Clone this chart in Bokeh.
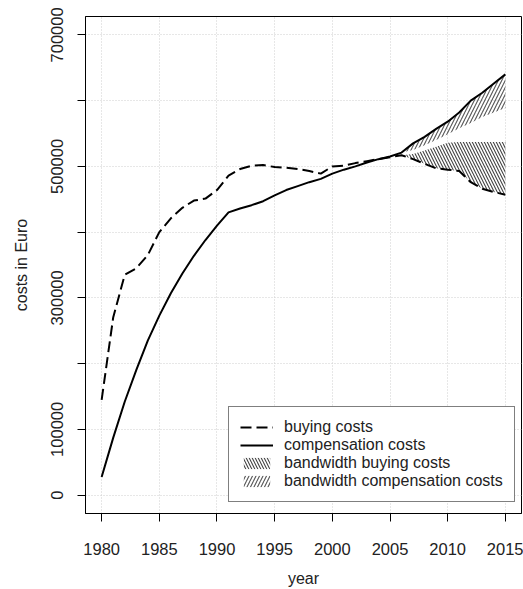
from bokeh.plotting import figure
from bokeh.models import FixedTicker, Legend, LegendItem, Range1d
from bokeh.embed import file_html
from bokeh.resources import INLINE

# ---- data ----
years = list(range(1980, 2016))
buying_costs = [145000, 270000, 335000, 345000, 365000, 400000, 421000, 437000, 448000, 451000,
                464000, 486000, 496000, 501000, 502000, 499000, 498000, 496000, 493000, 489000,
                500000, 501000, 505000, 508000, 511000, 514000, 517000, 511000, 504000, 497000,
                495000, 493000, 476000, 466000, 461000, 457000]
compensation_costs = [27500, 87000, 142000, 190000, 235000, 273000, 307000, 337000, 364000, 388000,
                      410000, 430000, 436000, 441000, 447000, 456000, 464000, 470000, 476000, 481000,
                      489000, 495000, 500000, 506000, 511000, 515000, 521000, 535000, 545000, 557000,
                      568000, 582000, 600000, 612000, 626000, 640000]
band_years = list(range(2006, 2016))
buying_band_upper = [517000, 519000, 524000, 530000, 536000, 537000, 537000, 537000, 537000, 537000]
buying_band_lower = buying_costs[-10:]
comp_band_upper = compensation_costs[-10:]
comp_band_lower = [521000, 525000, 532000, 540000, 549000, 558000, 566000, 575000, 582000, 589000]

x_ticks = [1980, 1985, 1990, 1995, 2000, 2005, 2010, 2015]
y_ticks = [0, 100000, 200000, 300000, 400000, 500000, 600000, 700000]
y_tick_labels = ["0", "100000", "", "300000", "", "500000", "", "700000"]

FONT = "Liberation Sans"
TXT = "#222222"

p = figure(width=523, height=589, output_backend="svg", toolbar_location=None,
           x_range=Range1d(1978.6, 2016.4), y_range=Range1d(-28000, 728000),
           min_border_left=85, min_border_right=2, min_border_top=16, min_border_bottom=76,
           background_fill_color="white", border_fill_color="white")
p.outline_line_color = "black"
p.outline_line_width = 1

# grids
p.xgrid.ticker = FixedTicker(ticks=x_ticks)
p.ygrid.ticker = FixedTicker(ticks=y_ticks)
for g in (p.xgrid, p.ygrid):
    g.grid_line_color = "#cfcfcf"
    g.grid_line_dash = "1 2"
    g.grid_line_width = 1

# axes
p.xaxis.ticker = FixedTicker(ticks=x_ticks)
p.yaxis.ticker = FixedTicker(ticks=y_ticks)
p.xaxis.major_label_overrides = {t: str(t) for t in x_ticks}
p.yaxis.major_label_overrides = {t: l for t, l in zip(y_ticks, y_tick_labels)}
p.yaxis.major_label_orientation = "vertical"
for ax in (p.xaxis, p.yaxis):
    ax.axis_line_color = "black"
    ax.major_tick_line_color = "black"
    ax.major_tick_out = 8
    ax.major_tick_in = 0
    ax.minor_tick_out = 0
    ax.minor_tick_in = 0
    ax.major_label_text_font = FONT
    ax.major_label_text_font_size = "16.5px"
    ax.major_label_text_color = TXT
    ax.axis_label_text_font = FONT
    ax.axis_label_text_font_size = "16px"
    ax.axis_label_text_font_style = "normal"
    ax.axis_label_text_color = TXT
p.xaxis.axis_label = "year"
p.yaxis.axis_label = "costs in Euro"
p.xaxis.major_label_standoff = 21
p.xaxis.axis_label_standoff = 12
p.yaxis.major_label_standoff = 14
p.yaxis.axis_label_standoff = 19

# bands
r_bbuy = p.varea(x=band_years, y1=buying_band_lower, y2=buying_band_upper,
                 fill_color="white", fill_alpha=0.0,
                 hatch_pattern="\\", hatch_color="#444444", hatch_weight=1.1, hatch_scale=6)
r_bcomp = p.varea(x=band_years, y1=comp_band_lower, y2=comp_band_upper,
                  fill_color="white", fill_alpha=0.0,
                  hatch_pattern="/", hatch_color="#555555", hatch_weight=1.1, hatch_scale=7)

# lines
r_buy = p.line(years, buying_costs, line_color="black", line_width=2, line_dash="11 5")
r_comp = p.line(years, compensation_costs, line_color="black", line_width=2)

legend = Legend(items=[
    LegendItem(label="buying costs", renderers=[r_buy]),
    LegendItem(label="compensation costs", renderers=[r_comp]),
    LegendItem(label="bandwidth buying costs", renderers=[r_bbuy]),
    LegendItem(label="bandwidth compensation costs", renderers=[r_bcomp]),
], location=(143, 11))
legend.border_line_color = "black"
legend.border_line_width = 1
legend.background_fill_color = "white"
legend.background_fill_alpha = 1.0
legend.label_text_font = FONT
legend.label_text_font_size = "16px"
legend.label_text_color = TXT
legend.glyph_width = 33
legend.glyph_height = 14
legend.label_height = 14
legend.label_standoff = 11
legend.padding = 11
legend.spacing = 0
legend.margin = 0
p.add_layout(legend)

open("out.html", "w").write(file_html(p, INLINE))
